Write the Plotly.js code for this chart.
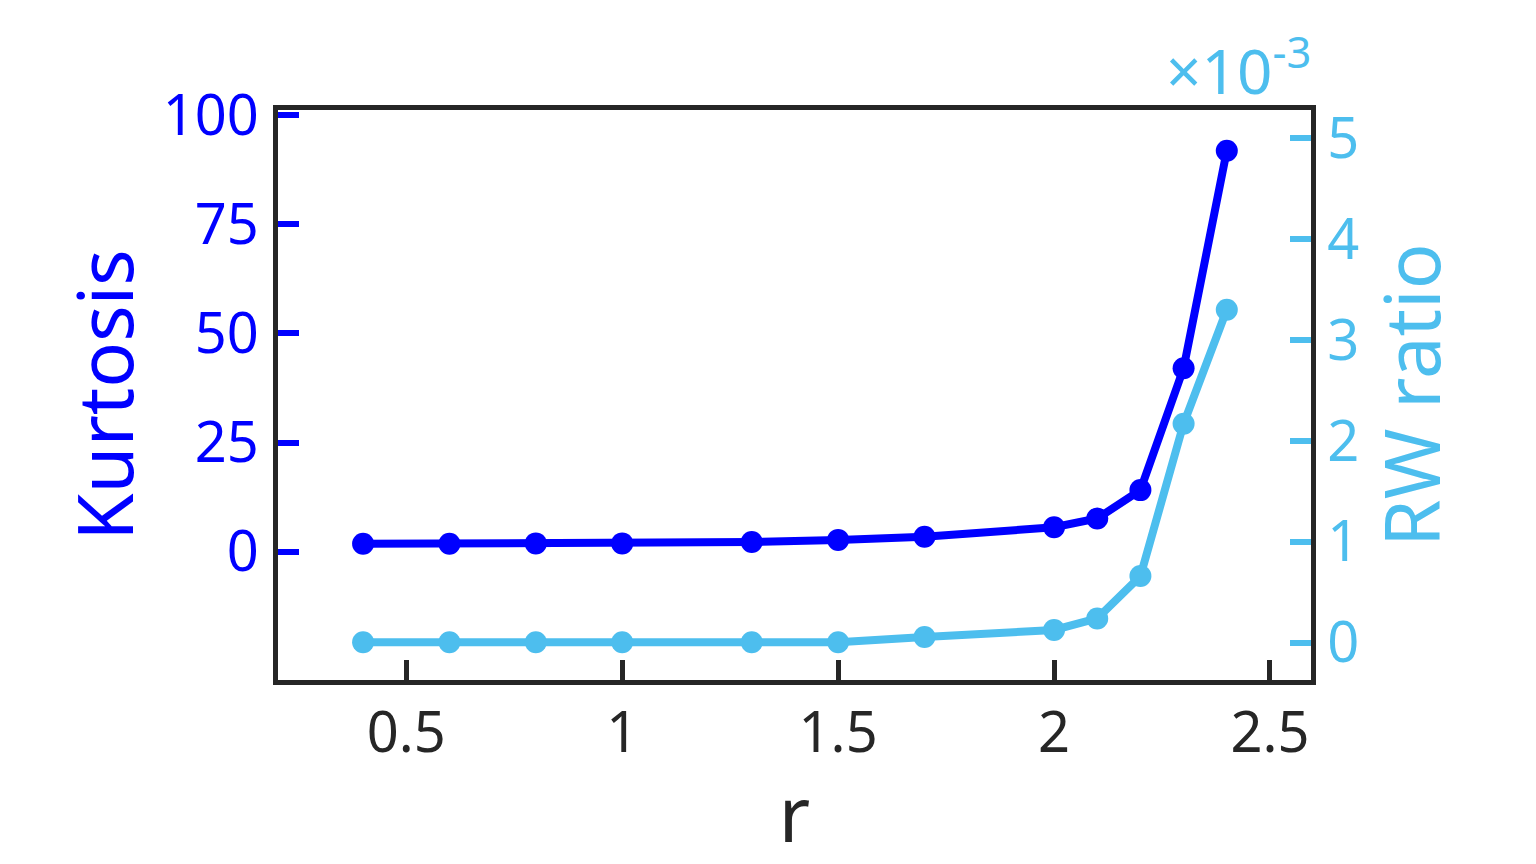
<!DOCTYPE html>
<html>
<head>
<meta charset="utf-8">
<script src="https://cdn.plot.ly/plotly-3.0.1.min.js"></script>
<style>html,body{margin:0;padding:0;background:#fff;}#chart{width:1536px;height:864px;}</style>
</head>
<body>
<div id="chart"></div>
<script>
// Data (RW ratio in units of 1e-3)
const rValues = [0.4, 0.6, 0.8, 1.0, 1.3, 1.5, 1.7, 2.0, 2.1, 2.2, 2.3, 2.4];
const kurtosis = [1.8, 1.8, 1.9, 1.9, 2.2, 2.7, 3.4, 5.6, 7.6, 14.1, 42.0, 91.8];
const rwRatio = [0.005, 0.005, 0.005, 0.005, 0.005, 0.005, 0.056, 0.126, 0.24, 0.66, 2.17, 3.30];
const leftTicks = [0, 25, 50, 75, 100];
const rightTicks = [0, 1, 2, 3, 4, 5];
const xTicks = [0.5, 1, 1.5, 2, 2.5];
const xTickText = ['0.5', '1', '1.5', '2', '2.5'];

const BLUE = '#0000FF';
const LIGHT = '#4DBEEE';
const DARK = '#262626';
const FONT = 'Noto Sans';

const traces = [
  {x: rValues, y: kurtosis, type: 'scatter', mode: 'lines+markers', name: 'Kurtosis',
   line: {color: BLUE, width: 8}, marker: {color: BLUE, size: 22}, yaxis: 'y'},
  {x: rValues, y: rwRatio, type: 'scatter', mode: 'lines+markers', name: 'RW ratio',
   line: {color: LIGHT, width: 8}, marker: {color: LIGHT, size: 22}, yaxis: 'y2'}
];

const layout = {
  width: 1536, height: 864,
  margin: {l: 278, r: 225, t: 110, b: 184, pad: 0},
  paper_bgcolor: '#fff', plot_bgcolor: '#fff',
  showlegend: false,
  font: {family: FONT, color: DARK},
  xaxis: {
    range: [0.203, 2.595], tickvals: xTicks, ticktext: xTickText,
    showline: true, linecolor: DARK, linewidth: 5, mirror: true,
    ticks: 'inside', ticklen: 20, tickwidth: 5, tickcolor: DARK,
    showgrid: false, zeroline: false,
    tickfont: {family: FONT, size: 56, color: DARK},
    title: {text: 'r', font: {family: FONT, size: 76, color: DARK}, standoff: 8}
  },
  yaxis: {
    range: [-29.38, 101.14], tickvals: leftTicks,
    showline: true, linecolor: DARK, linewidth: 5,
    ticks: 'inside', ticklen: 21, tickwidth: 6, tickcolor: BLUE,
    showgrid: false, zeroline: false, ticklabelstandoff: 3,
    tickfont: {family: FONT, size: 56, color: BLUE},
    title: {text: 'Kurtosis', font: {family: FONT, size: 76, color: BLUE}, standoff: 6}
  },
  yaxis2: {
    range: [-0.37, 5.28], tickvals: rightTicks, overlaying: 'y', side: 'right',
    showline: true, linecolor: DARK, linewidth: 5,
    ticks: 'inside', ticklen: 21, tickwidth: 6, tickcolor: LIGHT,
    showgrid: false, zeroline: false,
    tickfont: {family: FONT, size: 56, color: LIGHT},
    title: {text: 'RW ratio', font: {family: FONT, size: 76, color: LIGHT}, standoff: 17}
  },
  annotations: [{
    text: '×10<sup>-3</sup>', xref: 'paper', yref: 'paper', x: 1, y: 1,
    xanchor: 'right', yanchor: 'bottom', yshift: -4, xshift: 2, showarrow: false,
    font: {family: FONT, size: 62, color: LIGHT}
  }]
};

Plotly.newPlot('chart', traces, layout, {displayModeBar: false, staticPlot: true});
</script>
</body>
</html>
